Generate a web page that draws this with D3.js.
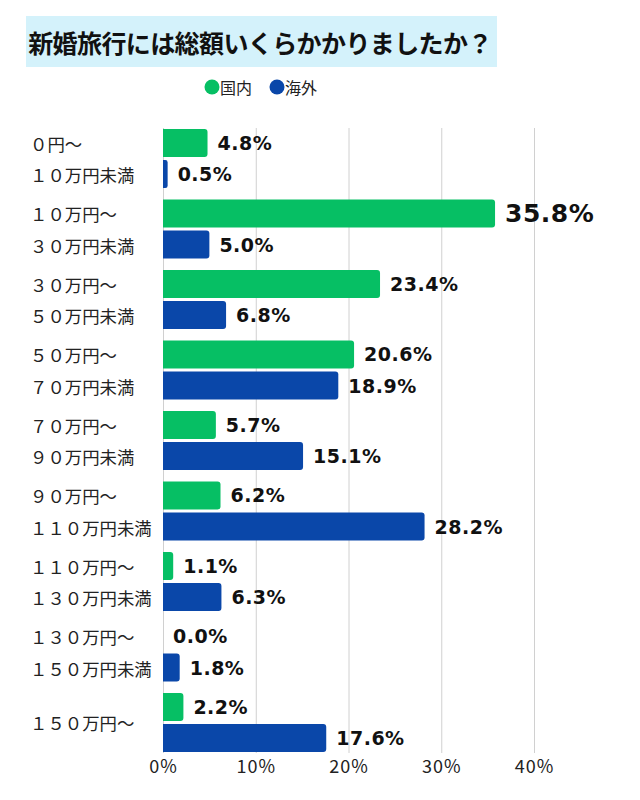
<!DOCTYPE html>
<html>
<head>
<meta charset="utf-8">
<script src="https://cdn.jsdelivr.net/npm/d3@7"></script>
<style>
  body { margin: 0; background: #fff; }
  .axis text { font-family: 'Noto Sans CJK JP', sans-serif; font-size: 18px; fill: #222; letter-spacing: 1px; }
</style>
</head>
<body>
<div id="chart"></div>
<script>
const categories = [
  ['０円～', '１０万円未満'],
  ['１０万円～', '３０万円未満'],
  ['３０万円～', '５０万円未満'],
  ['５０万円～', '７０万円未満'],
  ['７０万円～', '９０万円未満'],
  ['９０万円～', '１１０万円未満'],
  ['１１０万円～', '１３０万円未満'],
  ['１３０万円～', '１５０万円未満'],
  ['１５０万円～']
]
const domestic = [4.8, 35.8, 23.4, 20.6, 5.7, 6.2, 1.1, 0.0, 2.2]
const overseas = [0.5, 5.0, 6.8, 18.9, 15.1, 28.2, 6.3, 1.8, 17.6]
const seriesNames = ['国内', '海外']
const ticks = [0, 10, 20, 30, 40]

const colors = ['#06bf64', '#0a47a9']

const width = 640
const height = 800

const svg = d3
  .select('#chart')
  .append('svg')
  .attr('width', width)
  .attr('height', height)

svg.append('rect').attr('width', width).attr('height', height).attr('fill', '#fff')

// title
svg
  .append('rect')
  .attr('x', 26)
  .attr('y', 16)
  .attr('width', 471)
  .attr('height', 51)
  .attr('fill', '#d4f2fb')

svg
  .append('text')
  .attr('x', 260)
  .attr('y', 42)
  .attr('text-anchor', 'middle')
  .attr('dominant-baseline', 'central')
  .style('font-family', "'Noto Sans CJK JP', sans-serif")
  .style('font-weight', 'bold')
  .style('font-size', '25px')
  .style('letter-spacing', '-0.6px')
  .attr('fill', '#111')
  .text('新婚旅行には総額いくらかかりましたか？')

// legend
const legendX = [212, 277]
seriesNames.forEach((name, i) => {
  svg
    .append('circle')
    .attr('cx', legendX[i])
    .attr('cy', 87)
    .attr('r', 7.5)
    .attr('fill', colors[i])
  svg
    .append('text')
    .attr('x', legendX[i] + 8)
    .attr('y', 87)
    .attr('dominant-baseline', 'central')
    .style('font-family', "'Noto Sans CJK JP', sans-serif")
    .style('font-size', '16px')
    .attr('fill', '#222')
    .text(name)
})

const xPositionScale = d3.scaleLinear().domain([0, 40]).range([163, 534])

const yPositionScale = d3
  .scaleBand()
  .domain(d3.range(categories.length))
  .range([129, 752])
  .paddingInner(0.163)

const innerScale = d3
  .scaleBand()
  .domain([0, 1])
  .range([0, yPositionScale.bandwidth()])
  .paddingInner(0.1)

// gridlines + tick labels
const xAxis = d3
  .axisBottom(xPositionScale)
  .tickValues(ticks)
  .tickSize(-(752 - 127))
  .tickPadding(7)
  .tickFormat(d => d + '%')

svg
  .append('g')
  .attr('class', 'axis x-axis')
  .attr('transform', 'translate(0,753)')
  .call(xAxis)

svg.select('.x-axis .domain').remove()
svg.selectAll('.x-axis line').attr('stroke', '#d0d0d0')

const rows = []
categories.forEach((c, i) => {
  rows.push({ group: i, series: 0, value: domestic[i] })
  rows.push({ group: i, series: 1, value: overseas[i] })
})

// bar with rounded right corners
function barPath(d) {
  const x0 = xPositionScale(0)
  const x1 = xPositionScale(d.value)
  const y0 = yPositionScale(d.group) + innerScale(d.series)
  const h = innerScale.bandwidth()
  const r = Math.min(3, (x1 - x0) / 2)
  const p = d3.path()
  p.moveTo(x0, y0)
  p.lineTo(x1 - r, y0)
  p.quadraticCurveTo(x1, y0, x1, y0 + r)
  p.lineTo(x1, y0 + h - r)
  p.quadraticCurveTo(x1, y0 + h, x1 - r, y0 + h)
  p.lineTo(x0, y0 + h)
  p.closePath()
  return p.toString()
}

svg
  .selectAll('.bar')
  .data(rows.filter(d => d.value > 0))
  .enter()
  .append('path')
  .attr('class', 'bar')
  .attr('d', barPath)
  .attr('fill', d => colors[d.series])

svg
  .selectAll('.value')
  .data(rows)
  .enter()
  .append('text')
  .attr('class', 'value')
  .attr('x', d => xPositionScale(d.value) + 10)
  .attr('y', d => yPositionScale(d.group) + innerScale(d.series) + innerScale.bandwidth() / 2)
  .attr('dominant-baseline', 'central')
  .style('font-family', "'DejaVu Sans', sans-serif")
  .style('font-weight', 'bold')
  .style('letter-spacing', '0.5px')
  .style('font-size', d => (d.value > 30 ? '25px' : '19px'))
  .attr('fill', '#111')
  .text(d => d.value.toFixed(1) + '%')

// category labels
categories.forEach((lines, i) => {
  const g = svg.append('text')
    .attr('x', 30)
    .style('font-family', "'Noto Sans CJK JP', sans-serif")
    .style('font-size', '17.4px')
    .attr('fill', '#222')
    .attr('dominant-baseline', 'central')
  if (lines.length === 1) {
    g.attr('y', yPositionScale(i) + yPositionScale.bandwidth() / 2).text(lines[0])
  } else {
    lines.forEach((line, j) => {
      g.append('tspan')
        .attr('x', 30)
        .attr('y', yPositionScale(i) + innerScale(j) + innerScale.bandwidth() / 2)
        .text(line)
    })
  }
})
</script>
</body>
</html>
